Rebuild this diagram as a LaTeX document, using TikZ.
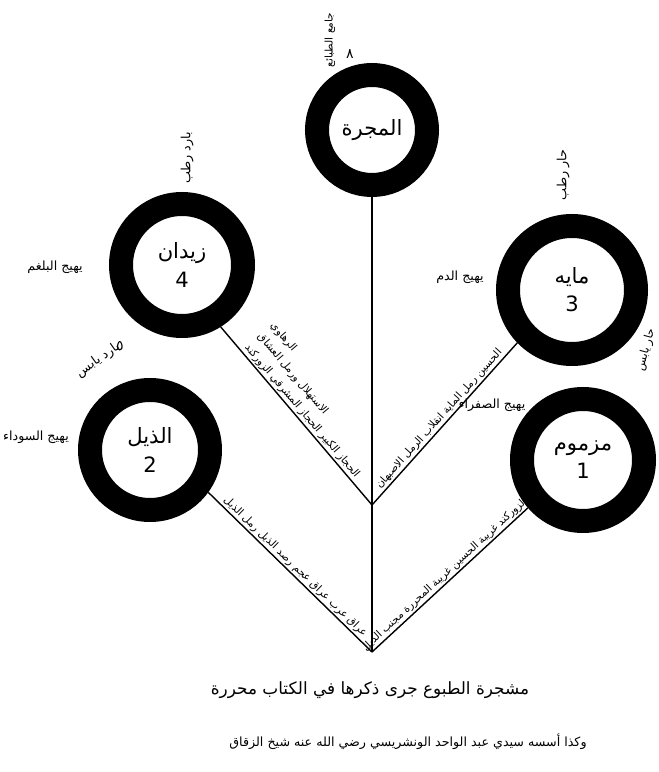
\documentclass[tikz,border=0pt]{standalone}
\usepackage{fontspec}
\newfontfamily\arabicfont[Script=Arabic]{DejaVu Sans}
\TeXXeTstate=1
\usepackage{tikz}
\pgfdeclarelayer{edgelayer}
\pgfdeclarelayer{nodelayer}
\pgfsetlayers{edgelayer,nodelayer,main}
\tikzstyle{edge}=[draw=black, line width=1pt]
\tikzstyle{ring}=[circle, fill=white, draw=black, line width=0.6cm, align=center, font=\arabicfont\fontsize{15}{20}\selectfont]
\tikzstyle{tag}=[inner sep=1pt, font=\arabicfont\fontsize{9}{11}\selectfont]
\tikzstyle{branch}=[sloped, above, inner sep=1pt, font=\arabicfont\fontsize{7.5}{12}\selectfont]

\begin{document}
\begin{tikzpicture}
				\useasboundingbox (0, 0) rectangle (16.475, 19.3);
				\begin{pgfonlayer}{nodelayer}
					\node [style=ring, minimum size=2.75cm] (0) at (9.3, 16.05) {\beginR المجرة\endR};
					\node [style=ring, minimum size=3.05cm] (1) at (14.575, 7.8) {\beginR مزموم\endR\\ 1};
					\node [style=ring, minimum size=3cm] (2) at (3.75, 8.05) {\beginR الذيل\endR\\ 2};
					\node [style=ring, minimum size=3.2cm] (3) at (14.3, 12.05) {\beginR مايه\endR\\ 3};
					\node [style=ring, minimum size=3.05cm] (4) at (4.55, 12.675) {\beginR زيدان\endR\\ 4};
					\coordinate (5) at (9.3, 6.675);
					\coordinate (6) at (9.3, 3.0);
					\node [style=tag] (7) at (1.375, 12.625) {\beginR يهيج البلغم\endR};
					\node [style=tag] (8) at (0.9, 8.375) {\beginR يهيج السوداء\endR};
					\node [style=tag] (9) at (11.5, 12.375) {\beginR يهيج الدم\endR};
					\node [style=tag] (10) at (12.3, 9.175) {\beginR يهيج الصفراء\endR};
					\node [style=tag, rotate=90, font=\arabicfont\fontsize{7.5}{9}\selectfont] (11) at (8.25, 18.3) {\beginR جامع الطبائع\endR};
					\node [style=tag, font=\arabicfont\fontsize{10}{12}\selectfont] (12) at (8.75, 17.95) {٨};
					\node [style=tag, rotate=90] (13) at (4.675, 15.35) {\beginR بارد رطب\endR};
					\node [style=tag, rotate=90] (14) at (14.075, 14.925) {\beginR حار رطب\endR};
					\node [style=tag, rotate=75, font=\arabicfont\fontsize{8}{10}\selectfont] (15) at (16.15, 10.55) {\beginR حار يابس\endR};
					\node [style=tag, rotate=35] (16) at (2.45, 10.3) {\beginR بارد يابس\endR};
					\node [style=tag, font=\arabicfont\fontsize{10}{12}\selectfont] (17) at (3.0, 10.65) {٥};
					\node [style=tag, font=\arabicfont\fontsize{12}{14}\selectfont] (18) at (9.25, 2.05) {\beginR مشجرة الطبوع جرى ذكرها في الكتاب محررة\endR};
					\node [style=tag] (19) at (10.2, 0.75) {\beginR وكذا أسسه سيدي عبد الواحد الونشريسي رضي الله عنه شيخ الزقاق\endR};
				\end{pgfonlayer}
				\begin{pgfonlayer}{edgelayer}
					\draw [style=edge] (0) to (6);
					\draw [style=edge] (4.-58) to node [style=branch, align=left] {\beginR الرهاوي\endR\\ \beginR الاستهلال ورمل العشاق\endR\\ \beginR الحجاز الكبير الحجاز المشرقي الزوركند\endR} (5);
					\draw [style=edge] (3.-136) to node [style=branch] {\beginR الحسين رمل الماية انقلاب الرمل الاصبهان\endR} (5);
					\draw [style=edge] (2.-36) to node [style=branch] {\beginR عراق عرب عراق عجم رصد الذيل رمل الذيل\endR} (6);
					\draw [style=edge] (1.-139) to node [style=branch] {\beginR الزوركند غريبة الحسين غريبة المحررة مجنب الذيل\endR} (6);
				\end{pgfonlayer}
			\end{tikzpicture}
\end{document}
